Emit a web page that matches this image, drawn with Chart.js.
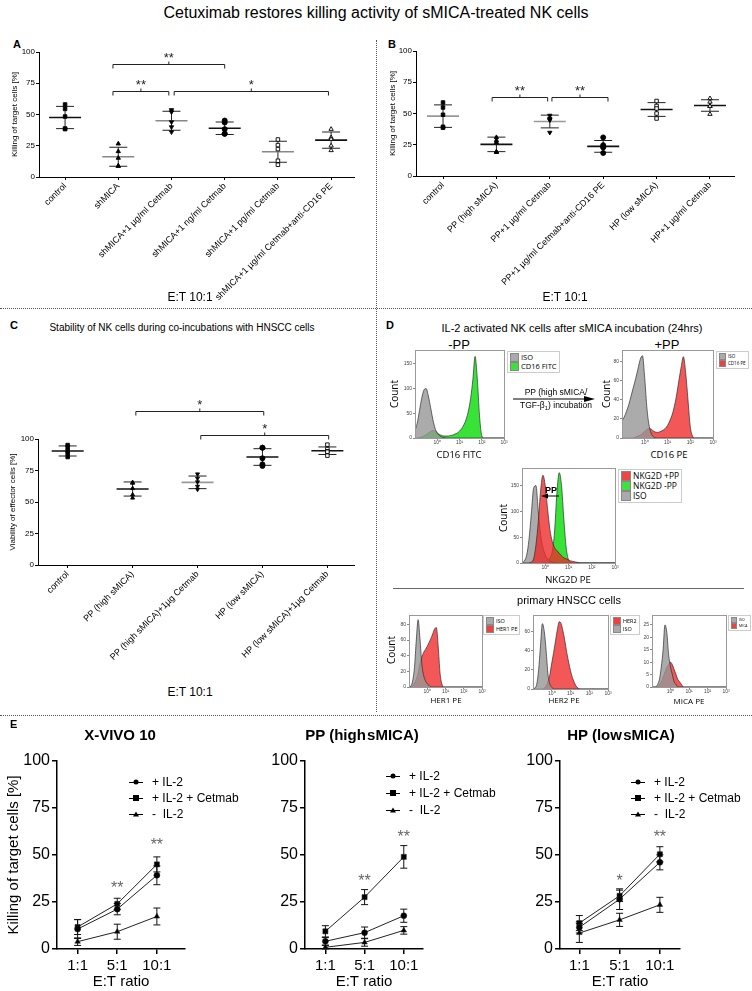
<!DOCTYPE html>
<html><head><meta charset="utf-8">
<script src="https://cdn.jsdelivr.net/npm/chart.js@4.4.1/dist/chart.umd.min.js"></script>
<style>
body{margin:0;background:#fff;font-family:"Liberation Sans",Arial,sans-serif;}
#root{position:relative;width:752px;height:991px;overflow:hidden;background:#fff;}
canvas{position:absolute;}
.t{position:absolute;white-space:nowrap;color:#000;line-height:1;}
.hl{position:absolute;border-top:1px dotted #555;height:0;}
.vl{position:absolute;border-left:1px dotted #555;width:0;}
.lg{position:absolute;border:1px solid #ccc;background:#fff;padding:1px 2px;font-family:"Open Sans",sans-serif;color:#000;}
.lg div{display:flex;align-items:center;white-space:nowrap;line-height:1.1;color:#000;}
.lg span.sw{display:inline-block;border:1px solid #888;margin-right:2px;}
.el{position:absolute;display:flex;align-items:center;font-size:12px;white-space:nowrap;transform:translateY(-50%);}
.el .ln{position:relative;width:14px;height:1px;background:#000;margin-right:9px;}
.el .mk{position:absolute;left:50%;top:50%;transform:translate(-50%,-50%);}
</style></head>
<body><div id="root"></div>
<script>
// ---------------- DATA ----------------
const catsA = ['control','shMICA','shMICA+1 µg/ml Cetmab','shMICA+1 ng/ml Cetmab','shMICA+1 pg/ml Cetmab','shMICA+1 µg/ml Cetmab+anti-CD16 PE'];
const ptsA = [[58,54.5,48.4,38.8,38.3],[26.6,20.5,15.2,8.8,8.8],[53.7,52,44,40,36],[45.2,43.6,38.3,34.6,34.6],[30,25.5,22.3,13,9.8],[38.3,31.6,30.3,25,21.3]];
const meanA = [47.6,16.2,45,39,20.2,29.5];
const sdA = [8.9,7.6,7.6,5,8.4,6.5];
const sigA = [[0.9,3.0,90,'**'],[0.9,1.95,68.4,'**'],[2.05,4.95,68.4,'*']];

const catsB = ['control','PP (high sMICA)','PP+1 µg/ml Cetmab','PP+1 µg/ml Cetmab+anti-CD16 PE','HP (low sMICA)','HP+1 µg/ml Cetmab'];
const ptsB = [[58.8,54.8,49,39.4,38.6],[30.9,28.5,27,19.4,19],[48.4,46,45.2,44.7,34.8],[30.9,24.7,23.4,22.9,18.4],[60,56,54,50,46],[62,59.3,55.9,55.9,49.5]];
const meanB = [47.9,25.3,43.6,23.7,53.2,56.4];
const sdB = [9,5.8,5.1,4.7,5.5,4.6];
const sigB = [[0.92,1.96,63,'**'],[2.04,3.09,63,'**']];

const catsC = ['control','PP (high sMICA)','PP (high sMICA)+1µg Cetmab','HP (low sMICA)','HP (low sMICA)+1µg Cetmab'];
const ptsC = [[95.2,93.4,90.7,88.6,85.7],[65.6,65,60.8,55.8,53.2],[72.2,68.8,65.9,62.4,60],[93.1,93.1,84.7,79.9,78.6],[95.5,92,90.2,89.9,86.8]];
const meanC = [90.5,60.3,65.6,85.7,90.7];
const sdC = [4,5.6,5,6.6,3];
const sigC = [[1.05,3.02,122,'*'],[2.05,4.02,103,'*']];

const pctTicks = [0,25,50,75,100];

// flow cytometry: log10 fluorescence bins and counts read per bin
const logBins = [-1.0,-0.9,-0.8,-0.7,-0.6,-0.5,-0.4,-0.3,-0.2,-0.1,0.0,0.1,0.2,0.3,0.4,0.5,0.6,0.7,0.8,0.9,1.0,1.1,1.2,1.3,1.4,1.5,1.6,1.7,1.8,1.9,2.0,2.1,2.2,2.3,2.4,2.5,2.6,2.7,2.8,2.9,3.0];
const decades = [0,1,2,3];
const cd16IsoMinus = [15,30,55,80,97,100,85,62,38,20,10,5,2,1,0,0,0,0,0,0,0,0,0,0,0,0,0,0,0,0,0,0,0,0,0,0,0,0,0,0,0];
const cd16Fitc     = [0,0,1,2,4,7,10,13,15,14,10,7,5,4,4,4,5,6,8,10,14,19,27,38,55,80,118,165,120,45,5,0,0,0,0,0,0,0,0,0,0];
const cd16IsoPlus  = [18,22,28,35,44,53,62,72,82,86,62,30,12,4,1,0,0,0,0,0,0,0,0,0,0,0,0,0,0,0,0,0,0,0,0,0,0,0,0,0,0];
const cd16Pe       = [0,0,0,0,0,0,1,2,3,5,7,9,10,9,7,6,6,7,8,10,13,18,24,33,45,60,74,85,68,40,12,2,0,0,0,0,0,0,0,0,0];
const nkg2dIso     = [0,4,15,45,95,145,150,100,55,30,16,8,4,2,1,0,0,0,0,0,0,0,0,0,0,0,0,0,0,0,0,0,0,0,0,0,0,0,0,0,0];
const nkg2dPlusPP  = [0,0,0,0,2,8,35,80,140,170,150,105,65,42,30,24,19,14,10,8,6,4,3,2,1,0,0,0,0,0,0,0,0,0,0,0,0,0,0,0,0];
const nkg2dMinusPP = [0,0,0,0,0,0,0,0,0,1,2,3,10,22,60,135,175,150,85,30,6,1,0,0,0,0,0,0,0,0,0,0,0,0,0,0,0,0,0,0,0];
const her1Iso      = [0,1,8,25,60,86,62,30,15,8,4,2,0,0,0,0,0,0,0,0,0,0,0,0,0,0,0,0,0,0,0,0,0,0,0,0,0,0,0,0,0];
const her1Pe       = [0,0,2,5,10,18,30,38,44,48,52,57,62,68,74,76,52,18,4,0,0,0,0,0,0,0,0,0,0,0,0,0,0,0,0,0,0,0,0,0,0];
const her2Iso      = [0,1,5,20,45,68,60,40,15,5,2,0,0,0,0,0,0,0,0,0,0,0,0,0,0,0,0,0,0,0,0,0,0,0,0,0,0,0,0,0,0];
const her2Pe       = [0,0,0,0,0,0,1,3,8,15,27,38,50,62,70,68,60,50,38,28,19,12,7,3,1,0,0,0,0,0,0,0,0,0,0,0,0,0,0,0,0];
const micaIso      = [0,0,0,1,3,8,15,25,22,13,8,5,2,1,0,0,0,0,0,0,0,0,0,0,0,0,0,0,0,0,0,0,0,0,0,0,0,0,0,0,0];
const micaPe       = [0,0,0,0,1,2,4,6,8,9,10,9,7,5,3,2,1,0,0,0,0,0,0,0,0,0,0,0,0,0,0,0,0,0,0,0,0,0,0,0,0];

// panel E
const ratios = ['1:1','5:1','10:1'];
const xvivoIL2 = [10.6,21.2,39.2], xvivoIL2Err = [5,3,5];
const xvivoCet = [11.7,24,45],     xvivoCetErr = [4,3,4];
const xvivoNo  = [3.9,9.2,17.3],   xvivoNoErr  = [2,4,4.5];
const ppIL2 = [4.1,8.7,17.7],  ppIL2Err = [2,3,3.5];
const ppCet = [9.4,27.6,49],   ppCetErr = [3,4,6];
const ppNo  = [0.9,3.5,9.9],   ppNoErr  = [1,2,2];
const hpIL2 = [11.5,26.5,46.1], hpIL2Err = [3,5.5,4];
const hpCet = [13.8,28.3,50.4], hpCetErr = [4,3,4];
const hpNo  = [8.5,15.5,23.5],  hpNoErr  = [5,3.5,4];
const sigXvivo = [[1,33.6,'**'],[2,56.5,'**']];
const sigPP    = [[1,37.6,'**'],[2,60.6,'**']];
const sigHP    = [[1,37.6,'*'],[2,60.6,'**']];

// ---------------- HELPERS ----------------
Chart.defaults.font.family = '"Liberation Sans", Arial, sans-serif';
Chart.defaults.color = '#000';
const root = document.getElementById('root');
function txt(s,x,y,o={}){
  const d=document.createElement('div'); d.className='t'; d.innerHTML=s;
  d.style.fontSize=(o.size||10)+'px';
  if(o.bold) d.style.fontWeight='bold';
  if(o.family) d.style.fontFamily=o.family;
  if(o.color) d.style.color=o.color;
  d.style.left=x+'px'; d.style.top=y+'px';
  let tr = o.align==='left' ? 'translate(0,-50%)' : 'translate(-50%,-50%)';
  if(o.rot) tr+=' rotate('+o.rot+'deg)';
  d.style.transform=tr; root.appendChild(d); return d;
}
function line(cls,x,y,len){const d=document.createElement('div');d.className=cls;d.style.left=x+'px';d.style.top=y+'px';
  if(cls==='hl')d.style.width=len+'px';else d.style.height=len+'px';root.appendChild(d);}
function mkCanvas(b){const c=document.createElement('canvas');c.width=b.w;c.height=b.h;c.style.left=b.l+'px';c.style.top=b.t+'px';
  c.style.width=b.w+'px';c.style.height=b.h+'px';root.appendChild(c);return c;}
function layoutFor(b,a){return {padding:{left:0,top:a.t-b.t,right:b.l+b.w-a.r,bottom:0}};}

const meanSdPlugin={id:'meanSd',beforeDatasetsDraw(chart,args,o){
  if(!o||!o.means)return; const {ctx,scales:{x,y}}=chart;
  o.means.forEach((m,i)=>{const cx=x.getPixelForValue(i),ym=y.getPixelForValue(m),yt=y.getPixelForValue(m+o.sds[i]),yb=y.getPixelForValue(m-o.sds[i]);
    ctx.save();ctx.strokeStyle='#222';ctx.lineWidth=1;ctx.beginPath();
    ctx.moveTo(cx,yt);ctx.lineTo(cx,yb);ctx.moveTo(cx-o.cap,yt);ctx.lineTo(cx+o.cap,yt);ctx.moveTo(cx-o.cap,yb);ctx.lineTo(cx+o.cap,yb);ctx.stroke();
    ctx.strokeStyle=o.meanColors[i];ctx.lineWidth=1.6;ctx.beginPath();ctx.moveTo(cx-o.half,ym);ctx.lineTo(cx+o.half,ym);ctx.stroke();ctx.restore();});
}};
const bracketPlugin={id:'brackets',afterDraw(chart,args,o){
  if(!o||!o.items)return; const {ctx,scales:{x,y}}=chart;
  ctx.save();ctx.strokeStyle='#222';ctx.fillStyle='#222';ctx.lineWidth=1;ctx.font='13px "Liberation Sans", Arial';ctx.textAlign='center';ctx.textBaseline='alphabetic';
  o.items.forEach(([x1,x2,v,lab])=>{const p1=x.getPixelForValue(x1),p2=x.getPixelForValue(x2),py=Math.round(y.getPixelForValue(v))+0.5,pm=(p1+p2)/2;
    ctx.beginPath();ctx.moveTo(p1,py+4);ctx.lineTo(p1,py);ctx.lineTo(p2,py);ctx.lineTo(p2,py+4);ctx.moveTo(pm,py);ctx.lineTo(pm,py-3);ctx.stroke();
    ctx.fillText(lab,pm,py-3);});
  ctx.restore();}};
const framePlugin={id:'frame',afterDraw(chart){const {ctx,chartArea:a}=chart;ctx.save();ctx.strokeStyle='#999';ctx.lineWidth=1;
  ctx.strokeRect(Math.round(a.left)+0.5,Math.round(a.top)+0.5,Math.round(a.right-a.left),Math.round(a.bottom-a.top));ctx.restore();}};
const errPlugin={id:'errs',beforeDatasetsDraw(chart){const {ctx,scales:{x,y}}=chart;ctx.save();ctx.strokeStyle='#111';ctx.lineWidth=1;
  chart.data.datasets.forEach(ds=>{if(!ds.errs)return;ds.data.forEach((p,i)=>{const px=x.getPixelForValue(p.x),e=ds.errs[i];
    const t=y.getPixelForValue(p.y+e),bt=y.getPixelForValue(Math.max(0,p.y-e));ctx.beginPath();ctx.moveTo(px,t);ctx.lineTo(px,bt);
    ctx.moveTo(px-3.5,t);ctx.lineTo(px+3.5,t);ctx.moveTo(px-3.5,bt);ctx.lineTo(px+3.5,bt);ctx.stroke();});});ctx.restore();}};
const starPlugin={id:'stars',afterDatasetsDraw(chart,args,o){if(!o||!o.items)return;const {ctx,scales:{x,y}}=chart;ctx.save();
  ctx.fillStyle='#666';ctx.font='16px "Liberation Sans", Arial';ctx.textAlign='center';ctx.textBaseline='middle';
  o.items.forEach(([xv,v,l])=>ctx.fillText(l,x.getPixelForValue(xv),y.getPixelForValue(v)+3));ctx.restore();}};

const axisGrid={display:true,drawOnChartArea:false,drawTicks:true,tickLength:3,color:'#000'};

function dotChart(b,a,cats,pts,means,sds,styles,meanColors,sig,xmin,xmax,yTitle,catSize,titlePad){
  const datasets=cats.map((c,i)=>({data:pts[i].map(v=>({x:i,y:v})),pointStyle:styles[i].s,rotation:styles[i].r||0,
    pointRadius:styles[i].rad||2.5,backgroundColor:styles[i].open?'#fff':'#000',borderColor:'#000',borderWidth:0.9}));
  return new Chart(mkCanvas(b),{type:'scatter',data:{datasets},
    plugins:[meanSdPlugin,bracketPlugin],
    options:{responsive:false,animation:false,devicePixelRatio:1,layout:layoutFor(b,a),
      plugins:{legend:{display:false},tooltip:{enabled:false},meanSd:{means,sds,meanColors,cap:9,half:16},brackets:{items:sig}},
      scales:{
        x:{type:'linear',min:xmin,max:xmax,afterBuildTicks:s=>{s.ticks=cats.map((c,i)=>({value:i}));},
          afterFit:s=>{s.height=b.t+b.h-a.b;},
          ticks:{autoSkip:false,maxRotation:45,minRotation:45,padding:1,font:{size:catSize},callback:v=>cats[v]},
          grid:axisGrid,border:{display:true,color:'#000',width:1}},
        y:{min:0,max:100,afterBuildTicks:s=>{s.ticks=pctTicks.map(v=>({value:v}));},afterFit:s=>{s.width=a.l-b.l;},
          ticks:{font:{size:8},padding:1},grid:axisGrid,border:{display:true,color:'#000',width:1},
          title:{display:true,text:yTitle,font:{size:8},padding:{top:titlePad,bottom:0}}}
      }}});
}

function histChart(b,a,series,ymax,yticks){
  const datasets=series.map(s=>({data:logBins.map((x,i)=>({x,y:s.d[i]})),fill:'origin',backgroundColor:s.c,borderColor:s.bc||'rgba(40,40,40,0.85)',
    borderWidth:0.8,pointRadius:0,cubicInterpolationMode:'monotone'}));
  return new Chart(mkCanvas(b),{type:'line',data:{datasets},plugins:[framePlugin],
    options:{responsive:false,animation:false,devicePixelRatio:1,layout:layoutFor(b,a),
      plugins:{legend:{display:false},tooltip:{enabled:false}},
      scales:{
        x:{type:'linear',min:-1,max:3,afterBuildTicks:s=>{s.ticks=decades.map(v=>({value:v}));},afterFit:s=>{s.height=b.t+b.h-a.b;},
          ticks:{font:{size:5},color:'#444',padding:0,maxRotation:0,callback:v=>'10'+['⁰','¹','²','³'][v]},
          grid:{display:true,drawOnChartArea:false,tickLength:2,color:'#888'},border:{display:false}},
        y:{min:0,max:ymax,afterBuildTicks:s=>{s.ticks=yticks.map(v=>({value:v}));},afterFit:s=>{s.width=a.l-b.l;},
          ticks:{font:{size:5},color:'#444',padding:1},grid:{display:true,drawOnChartArea:false,tickLength:2,color:'#888'},border:{display:false}}
      }}});
}

function killChart(b,a,xmin,xmax,sets,sig,showTitle){
  const mk=(vals,errs,ps,rad)=>({data:vals.map((v,i)=>({x:i,y:v})),errs,pointStyle:ps,pointRadius:rad,backgroundColor:'#000',
    borderColor:'#222',borderWidth:1,pointBorderWidth:0.5,tension:0});
  return new Chart(mkCanvas(b),{type:'line',data:{datasets:[mk(sets[0],sets[1],'circle',3),mk(sets[2],sets[3],'rect',3.6),mk(sets[4],sets[5],'triangle',3.2)]},
    plugins:[errPlugin,starPlugin],
    options:{responsive:false,animation:false,devicePixelRatio:1,layout:layoutFor(b,a),
      plugins:{legend:{display:false},tooltip:{enabled:false},stars:{items:sig}},
      scales:{
        x:{type:'linear',min:xmin,max:xmax,afterBuildTicks:s=>{s.ticks=ratios.map((r,i)=>({value:i}));},afterFit:s=>{s.height=b.t+b.h-a.b;},
          ticks:{font:{size:15},padding:3,maxRotation:0,callback:v=>ratios[v]},grid:{display:true,drawOnChartArea:false,tickLength:5,color:'#000',lineWidth:1.5},
          border:{display:true,color:'#000',width:1.5},title:{display:true,text:'E:T ratio',font:{size:15},padding:{top:0,bottom:0}}},
        y:{min:0,max:100,afterBuildTicks:s=>{s.ticks=pctTicks.map(v=>({value:v}));},afterFit:s=>{s.width=a.l-b.l;},
          ticks:{font:{size:16},padding:2},grid:{display:true,drawOnChartArea:false,tickLength:5,color:'#000',lineWidth:1.5},
          border:{display:true,color:'#000',width:1.5},
          title:{display:showTitle,text:'Killing of target cells [%]',font:{size:15},padding:{top:5,bottom:0}}}
      }}});
}

function hLegend(x,y,rows,size,sw){
  const d=document.createElement('div');d.className='lg';d.style.left=x+'px';d.style.top=y+'px';d.style.fontSize=size+'px';
  d.innerHTML=rows.map(r=>`<div><span class="sw" style="width:${sw}px;height:${sw}px;background:${r[1]}"></span>${r[0]}</div>`).join('');
  root.appendChild(d);
}
function eLegend(x,y0,dy){
  const mks=['<span class="mk" style="width:5px;height:5px;border-radius:50%;background:#000"></span>',
    '<span class="mk" style="width:6px;height:6px;background:#000"></span>',
    '<span class="mk" style="width:0;height:0;border-left:3px solid transparent;border-right:3px solid transparent;border-bottom:5px solid #000"></span>'];
  const labs=['+ IL-2','+ IL-2 + Cetmab','-&nbsp; IL-2'];
  labs.forEach((l,i)=>{const d=document.createElement('div');d.className='el';d.style.left=x+'px';d.style.top=(y0+i*dy)+'px';
    d.innerHTML=`<span class="ln">${mks[i]}</span>${l}`;root.appendChild(d);});
}

// ---------------- FIGURE ----------------
txt('Cetuximab restores killing activity of sMICA-treated NK cells',376,13,{size:16});
txt('A',13,44,{size:11,bold:true,align:'left'});
txt('B',388,44,{size:11,bold:true,align:'left'});
line('vl',376,40,672);
line('hl',0,308,752);
line('hl',0,715,752);

dotChart({l:0,t:44,w:376,h:256},{l:39,t:52,r:354,b:177},catsA,ptsA,meanA,sdA,
  [{s:'rect'},{s:'triangle'},{s:'triangle',r:180},{s:'circle'},{s:'rect',open:true},{s:'triangle',open:true}],
  ['#111','#888','#888','#111','#888','#111'],sigA,-0.49,5.43,'Killing of target cells [%]',9,10);
dotChart({l:376,t:44,w:376,h:256},{l:416,t:51,r:734,b:176},catsB,ptsB,meanB,sdB,
  [{s:'rect'},{s:'triangle'},{s:'triangle',r:180},{s:'circle'},{s:'rect',open:true},{s:'triangle',open:true}],
  ['#999','#111','#999','#111','#111','#111'],sigB,-0.506,5.45,'Killing of target cells [%]',9,12);
txt('E:T 10:1',190,297,{size:12});
txt('E:T 10:1',565,297,{size:12});

txt('C',10,325,{size:11,bold:true,align:'left'});
txt('Stability of NK cells during co-incubations with HNSCC cells',182,328,{size:10});
dotChart({l:0,t:380,w:376,h:300},{l:38,t:439,r:354,b:565},catsC,ptsC,meanC,sdC,
  [{s:'rect'},{s:'triangle',rad:2.3},{s:'triangle',r:180,rad:2.3},{s:'circle'},{s:'rect',open:true}],
  ['#111','#111','#999','#111','#111'],sigC,-0.457,4.41,'Viability of effector cells [%]',9,8);
txt('E:T 10:1',190,692,{size:12});

// panel D
txt('D',386,325,{size:11,bold:true,align:'left'});
txt('IL-2 activated NK cells after sMICA incubation (24hrs)',572,328,{size:11});
txt('-PP',459,344,{size:13});
txt('+PP',667,344,{size:13});
const GR='rgba(150,150,150,0.8)', GN='rgba(45,225,45,0.95)', RD='rgba(240,45,45,0.8)';
histChart({l:398,t:340,w:114,h:106},{l:415,t:350,r:504,b:438},[{d:cd16IsoMinus,c:GR},{d:cd16Fitc,c:GN}],178,[0,50,100,150]);
histChart({l:606,t:340,w:116,h:106},{l:622,t:350,r:713,b:438},[{d:cd16IsoPlus,c:GR},{d:cd16Pe,c:RD}],92,[0,20,40,60,80]);
histChart({l:506,t:458,w:117,h:113},{l:522,t:468,r:615,b:563},[{d:nkg2dPlusPP,c:'rgba(238,40,40,0.78)'},{d:nkg2dIso,c:GR},{d:nkg2dMinusPP,c:GN}],184,[0,50,100,150]);
histChart({l:394,t:605,w:96,h:90},{l:409,t:615,r:482,b:687},[{d:her1Iso,c:GR},{d:her1Pe,c:RD}],92,[0,20,40,60,80]);
histChart({l:518,t:605,w:98,h:92},{l:533,t:615,r:608,b:689},[{d:her2Iso,c:GR},{d:her2Pe,c:RD}],77,[0,20,40,60]);
histChart({l:638,t:605,w:96,h:90},{l:652,t:615,r:726,b:687},[{d:micaIso,c:GR},{d:micaPe,c:RD}],29,[0,5,10,15,20,25]);

hLegend(507,351,[['ISO','#aaa'],['CD16 FITC','#3de03d']],7.5,7);
hLegend(716,351,[['ISO','#aaa'],['CD16 PE','#f04040']],4.5,5);
hLegend(618,469,[['NKG2D +PP','#f04545'],['NKG2D -PP','#40e040'],['ISO','#aaa']],8.5,8);
hLegend(483,615,[['ISO','#aaa'],['HER1 PE','#f04040']],5.5,6);
hLegend(610,615,[['HER2','#f04040'],['ISO','#aaa']],5.5,6);
hLegend(728,615,[['ISO','#aaa'],['MICA','#f04040']],3.5,4);

const OS='"Open Sans",sans-serif';
txt('Count',394,394,{size:10,family:OS,rot:-90});
txt('Count',606,394,{size:10,family:OS,rot:-90});
txt('Count',503,518,{size:10,family:OS,rot:-90});
txt('Count',391,650,{size:10,family:OS,rot:-90});
txt('CD16 FITC',459,455,{size:9.5,family:OS});
txt('CD16 PE',669,455,{size:9.5,family:OS});
txt('NKG2D PE',568,580,{size:9.5,family:OS});
txt('HER1 PE',446,700,{size:8,family:OS});
txt('HER2 PE',564,700,{size:8,family:OS});
txt('MICA PE',689,701,{size:8,family:OS});
txt('PP (high sMICA/',556,392,{size:8.5});
txt('TGF-β<sub style="font-size:6px">1</sub>) incubation',556,406,{size:8.5});
txt('<b>PP</b>',551,490,{size:9});
txt('primary HNSCC cells',569,600,{size:11});
{const d=document.createElement('div');d.style.cssText='position:absolute;left:393px;top:588px;width:351px;height:1px;background:#666';root.appendChild(d);}
{const s=document.createElementNS('http://www.w3.org/2000/svg','svg');s.setAttribute('width','752');s.setAttribute('height','991');
 s.style.cssText='position:absolute;left:0;top:0;pointer-events:none';
 s.innerHTML='<line x1="513" y1="399" x2="588" y2="399" stroke="#000" stroke-width="1.2"/><polygon points="595,399 584,396 584,402" fill="#000"/>'+
  '<line x1="559" y1="496" x2="546" y2="496" stroke="#000" stroke-width="1"/><polygon points="541,496 548,493.5 548,498.5" fill="#000"/>';
 root.appendChild(s);}

// panel E
txt('E',10,724,{size:11,bold:true,align:'left'});
txt('X-VIVO 10',120,734,{size:15,bold:true});
txt('PP (high\u200AsMICA)',362,734,{size:15,bold:true});
txt('HP (low\u200AsMICA)',621,734,{size:15,bold:true});
killChart({l:0,t:745,w:250,h:246},{l:57,t:761,r:185,b:949},-0.52,2.71,[xvivoIL2,xvivoIL2Err,xvivoCet,xvivoCetErr,xvivoNo,xvivoNoErr],sigXvivo,true);
killChart({l:250,t:745,w:250,h:246},{l:305,t:761,r:423,b:949},-0.52,2.49,[ppIL2,ppIL2Err,ppCet,ppCetErr,ppNo,ppNoErr],sigPP,false);
killChart({l:500,t:745,w:252,h:246},{l:560,t:761,r:680,b:949},-0.48,2.5,[hpIL2,hpIL2Err,hpCet,hpCetErr,hpNo,hpNoErr],sigHP,false);
eLegend(129,782,16);
eLegend(386,776,17);
eLegend(631,782,16);
</script></body></html>
